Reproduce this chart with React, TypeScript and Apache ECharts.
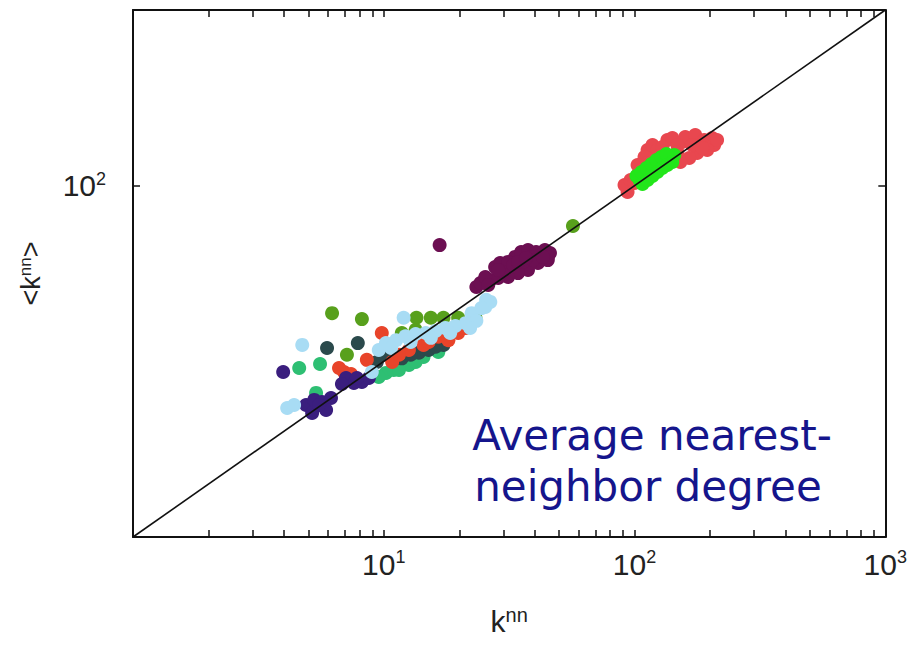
import React, { useEffect, useRef } from "react";
import * as echarts from "echarts";

// k^nn vs <k^nn>, one array of [x, y] pairs per group
const limeGroup: [number, number][] = [
  [104.7, 107.7], [109.6, 113.5], [114.7, 119.6], [120, 126.1],
  [125.6, 132.8], [131.5, 138.1], [137.7, 143.7], [144.1, 149.5],
  [101.8, 113.5], [106.6, 119.6], [111.6, 126.1], [116.8, 132.8],
  [122.3, 140.0], [127.9, 145.6], [133.9, 151.4],
  [107.6, 102.2], [112.7, 107.7], [117.9, 113.5], [123.4, 119.6],
  [129.1, 126.1], [135.2, 131.2], [141.5, 136.4],
];
const roseGroup: [number, number][] = [
  [93.8, 92.0], [91.2, 100.9], [96.4, 107.7], [112.7, 159.6], [117.9, 170.4],
  [135.2, 182.0], [141.5, 186.7], [155.0, 177.3], [159.3, 189.3], [174.6, 194.2],
  [189.6, 182.0], [204.0, 186.7], [207.7, 170.4], [194.9, 159.6], [177.8, 153.5],
  [165.3, 143.7], [152.3, 136.4], [109.6, 145.6], [112.7, 134.6], [102.8, 115.0],
  [123.4, 159.6], [148.2, 170.4], [169.8, 170.4], [186.2, 163.7], [102.8, 131.2],
  [129.1, 166.0], [213.4, 182.0], [100, 103.5], [148.2, 155.5],
];
const plumGroup: [number, number][] = [
  [16.7, 45.9], [23.4, 26.5], [24.3, 27.9], [27.8, 34.4], [29.1, 36.3],
  [30.8, 34.0], [33.4, 39.3], [35.3, 41.9], [37.6, 43.0], [40.5, 41.9],
  [43.9, 43.0], [46.0, 41.4], [45.1, 37.7], [41.2, 36.3], [37.6, 33.1],
  [34.3, 31.8], [31.3, 30.2], [28.6, 29.8], [26.6, 29.0], [45.1, 39.3],
  [38.7, 39.3], [31.3, 36.8], [25.4, 30.2], [29.9, 32.3], [32.8, 35.3],
  [35.9, 36.8], [39.4, 37.7], [43.1, 39.3], [34.3, 36.8], [28.6, 33.1],
  [26.1, 27.2], [36.9, 38.7],
];
const oliveGroup: [number, number][] = [
  [6.22, 18.8], [8.18, 17.4], [7.13, 10.9], [13.5, 17.7], [15.4, 17.7],
  [17.3, 17.7], [19.8, 17.7], [23.2, 17.7], [11.8, 14.5], [13.4, 15.1],
  [18.6, 15.1], [56.8, 58.9],
];
const skyGroup: [number, number][] = [
  [4.73, 12.4], [4.12, 5.42], [4.39, 5.64], [12.0, 17.7], [25.4, 20.4],
  [26.6, 21.8], [22.4, 18.8], [9.55, 11.6], [10.2, 12.7], [11.2, 13.2],
  [12.2, 13.9], [13.4, 14.3], [14.7, 14.5], [16.1, 14.9], [17.6, 15.5],
  [19.3, 15.9], [21.2, 16.5], [23.4, 17.0], [8.96, 8.7], [25.6, 22.4],
  [24.5, 20.1], [10.7, 11.9], [12.8, 12.9], [15.4, 13.6], [18.4, 14.5],
  [22.1, 15.5],
];
const vermilionGroup: [number, number][] = [
  [6.94, 8.7], [6.63, 9.16], [7.4, 8.47], [8.56, 10.2], [9.82, 14.5],
  [21.2, 15.5], [16.5, 13.8], [12.6, 11.6], [10.8, 9.92], [19.8, 14.5],
  [14.4, 12.4], [11.5, 10.9], [15.1, 12.9], [18.1, 13.2],
];
const slateGroup: [number, number][] = [
  [5.94, 11.9], [7.88, 12.7], [11.8, 10.4], [13.8, 11.2], [15.1, 11.6],
  [10.0, 10.9], [9.38, 9.92], [17.3, 12.4], [10.96, 10.2], [12.8, 10.9],
  [16.1, 12.1],
];
const jadeGroup: [number, number][] = [
  [4.6, 9.16], [5.57, 9.66], [5.37, 6.61], [12.6, 9.53], [10.2, 8.59],
  [9.55, 8.15], [10.96, 8.93], [14.4, 10.6], [16.5, 11.3], [11.5, 8.93],
  [13.4, 9.92],
];
const indigoGroup: [number, number][] = [
  [3.97, 8.7], [7.07, 8.04], [7.6, 7.53], [8.18, 7.63], [8.72, 8.04],
  [6.81, 7.43], [4.9, 5.64], [5.28, 6.03], [5.67, 5.87], [6.16, 6.18],
  [5.18, 5.08], [5.89, 5.28], [7.81, 8.04], [5.52, 5.64],
];

// reference diagonal <k^nn> = k^nn
const diagonal: [number, number][] = [[1, 1], [1000, 1000]];

// axis range, tick positions and labelled decades
const X_RANGE = [1, 1000];
const Y_RANGE = [1, 1000];
const X_TICKS = [
  2, 3, 4, 5, 6, 7, 8, 9, 10,
  20, 30, 40, 50, 60, 70, 80, 90, 100,
  200, 300, 400, 500, 600, 700, 800, 900,
];
const X_LABELS = [10, 100, 1000];
const Y_TICKS = [100];
const Y_LABELS = [100];

const groups: { name: string; data: [number, number][]; color: string }[] = [
  { name: "jade", data: jadeGroup, color: "#2ebf73" },
  { name: "slate", data: slateGroup, color: "#2b4a4c" },
  { name: "olive", data: oliveGroup, color: "#58a01c" },
  { name: "vermilion", data: vermilionGroup, color: "#e8442a" },
  { name: "indigo", data: indigoGroup, color: "#3a1e7e" },
  { name: "sky", data: skyGroup, color: "#a8dcf4" },
  { name: "plum", data: plumGroup, color: "#6c0f52" },
  { name: "rose", data: roseGroup, color: "#e8474f" },
  { name: "lime", data: limeGroup, color: "#22e61a" },
];

const AXIS_FONT = "'Liberation Sans Narrow', 'Liberation Sans', Arial, sans-serif";

const powerLabel = (v: number) => `{b|10}{s|${Math.round(Math.log10(v))}}`;
const powerRich = {
  b: { fontSize: 30, fontFamily: AXIS_FONT, color: "#222", lineHeight: 32 },
  s: { fontSize: 18, fontFamily: AXIS_FONT, color: "#222", lineHeight: 32, verticalAlign: "top" as const, padding: [0, 0, 13, 0] },
};

const frameLine = { show: true, lineStyle: { color: "#111", width: 2 } };

export default function App() {
  const ref = useRef<HTMLDivElement>(null);

  useEffect(() => {
    if (!ref.current) return;
    const chart = echarts.init(ref.current, undefined, { renderer: "svg" });

    chart.setOption({
      animation: false,
      backgroundColor: "#ffffff",
      grid: { left: 133, right: 22, top: 10, bottom: 109, containLabel: false },
      xAxis: [
        {
          type: "log",
          logBase: 10,
          min: X_RANGE[0],
          max: X_RANGE[1],
          position: "bottom",
          axisLine: frameLine,
          axisTick: { show: true, inside: true, length: 7, customValues: X_TICKS, lineStyle: { color: "#111", width: 1.5 } },
          axisLabel: { show: true, margin: 11, customValues: X_LABELS, formatter: powerLabel, rich: powerRich },
          splitLine: { show: false },
          name: "{k|k}{s|nn}",
          nameLocation: "middle",
          nameGap: 68,
          nameTextStyle: {
            rich: {
              k: { fontSize: 30, fontFamily: AXIS_FONT, color: "#222", lineHeight: 32 },
              s: { fontSize: 20, fontFamily: AXIS_FONT, color: "#222", lineHeight: 32, verticalAlign: "top" as const, padding: [0, 0, 14, 0] },
            },
          },
        },
        {
          type: "log",
          logBase: 10,
          min: X_RANGE[0],
          max: X_RANGE[1],
          position: "top",
          axisLine: frameLine,
          axisTick: { show: true, inside: true, length: 7, customValues: X_TICKS, lineStyle: { color: "#111", width: 1.5 } },
          axisLabel: { show: false },
          splitLine: { show: false },
        },
      ],
      yAxis: [
        {
          type: "log",
          logBase: 10,
          min: Y_RANGE[0],
          max: Y_RANGE[1],
          position: "left",
          axisLine: frameLine,
          axisTick: { show: true, inside: true, length: 7, customValues: Y_TICKS, lineStyle: { color: "#111", width: 1.5 } },
          axisLabel: { show: true, margin: 27, customValues: Y_LABELS, formatter: powerLabel, rich: powerRich },
          splitLine: { show: false },
          name: "{t|<k}{s|nn}{t|>}",
          nameLocation: "middle",
          nameRotate: 90,
          nameGap: 88,
          nameTextStyle: {
            rich: {
              t: { fontSize: 27, fontFamily: AXIS_FONT, color: "#222", lineHeight: 28 },
              s: { fontSize: 17, fontFamily: AXIS_FONT, color: "#222", lineHeight: 28, verticalAlign: "top" as const, padding: [0, 0, 12, 0] },
            },
          },
        },
        {
          type: "log",
          logBase: 10,
          min: Y_RANGE[0],
          max: Y_RANGE[1],
          position: "right",
          axisLine: frameLine,
          axisTick: { show: true, inside: true, length: 7, customValues: Y_TICKS, lineStyle: { color: "#111", width: 1.5 } },
          axisLabel: { show: false },
          splitLine: { show: false },
        },
      ],
      series: [
        ...groups.map((g) => ({
          name: g.name,
          type: "scatter",
          xAxisIndex: 0,
          yAxisIndex: 0,
          data: g.data,
          symbol: "circle",
          symbolSize: 14,
          itemStyle: { color: g.color, opacity: 1 },
          silent: true,
        })),
        {
          name: "diagonal",
          type: "line",
          xAxisIndex: 0,
          yAxisIndex: 0,
          data: diagonal,
          symbol: "none",
          lineStyle: { color: "#111", width: 1.6 },
          z: 5,
          silent: true,
        },
      ],
      graphic: [
        {
          type: "text",
          z: 10,
          style: {
            text: "Average nearest-",
            x: 652,
            y: 435,
            align: "center",
            verticalAlign: "middle",
            fontSize: 42,
            fontFamily: "'DejaVu Sans', sans-serif",
            fill: "#15158c",
          },
        },
        {
          type: "text",
          z: 10,
          style: {
            text: "neighbor degree",
            x: 648,
            y: 486,
            align: "center",
            verticalAlign: "middle",
            fontSize: 42,
            fontFamily: "'DejaVu Sans', sans-serif",
            fill: "#15158c",
          },
        },
      ],
    });

    return () => chart.dispose();
  }, []);

  return (
    <div
      ref={ref}
      style={{ position: "absolute", left: 0, top: 0, width: 910, height: 646, background: "#fff" }}
    />
  );
}
